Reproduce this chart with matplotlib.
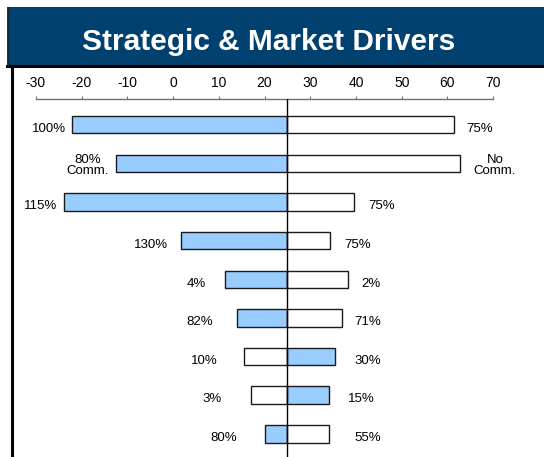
import matplotlib.pyplot as plt
from matplotlib.patches import Rectangle
from matplotlib.lines import Line2D

plt.rcParams['font.family'] = ['Liberation Sans', 'DejaVu Sans']

# tornado data: bars grow out from a base of 25
base = 25
left_end = [-22.0, -12.5, -23.9, 1.7, 11.4, 13.9, 15.5, 17.0, 20.1]
right_end = [61.4, 62.8, 39.6, 34.3, 38.3, 36.9, 35.4, 34.0, 34.0]
left_blue = [True, True, True, True, True, True, False, False, True]
left_labels = ['100%', '80%\nComm.', '115%', '130%', '4%', '82%', '10%', '3%', '80%']
right_labels = ['75%', 'No\nComm.', '75%', '75%', '2%', '71%', '30%', '15%', '55%']
ticks = [-30, -20, -10, 0, 10, 20, 30, 40, 50, 60, 70]

# where the value labels sit (layout only)
left_label_x = [-23.5, -18.6, -25.4, -1.1, 7.2, 8.7, 9.8, 10.7, 14.0]
right_label_x = [64.2, 70.4, 42.6, 37.4, 41.1, 39.6, 39.6, 38.2, 39.6]

blue = '#99CCFF'
navy = '#00416F'

fig = plt.figure(figsize=(5.44, 4.57), dpi=100)

# title banner
fig.patches.append(Rectangle((7 / 544, 1 - 66 / 457), 1, 59 / 457,
                             transform=fig.transFigure, facecolor=navy,
                             edgecolor='none', zorder=0))
fig.lines.append(Line2D([7 / 544, 1], [1 - 65.5 / 457] * 2, transform=fig.transFigure,
                        color='black', lw=2.2))
fig.lines.append(Line2D([7.5 / 544] * 2, [1 - 66 / 457, 1 - 7 / 457], transform=fig.transFigure,
                        color='#10253a', lw=0.8))
fig.lines.append(Line2D([12 / 544] * 2, [0, 1 - 66 / 457], transform=fig.transFigure,
                        color='black', lw=2.2))
fig.text(0.493, 1 - 42 / 457, 'Strategic & Market Drivers', color='white',
         fontsize=21.5, fontweight='bold', ha='center', va='center')

ax = fig.add_axes([35.9 / 544, 0, 457.3 / 544, 1 - 99 / 457])
ax.set_xlim(-30, 70)
ax.set_ylim(8.6, -0.665)

rows = list(range(len(left_end)))
for i in rows:
    lc = blue if left_blue[i] else 'white'
    rc = 'white' if left_blue[i] else blue
    ax.barh(i, left_end[i] - base, left=base, height=0.45, color=lc,
            edgecolor='#1a1a1a', lw=1.0, zorder=2)
    ax.barh(i, right_end[i] - base, left=base, height=0.45, color=rc,
            edgecolor='#1a1a1a', lw=1.0, zorder=2)
    if '\n' in left_labels[i]:
        ax.text(left_label_x[i], i + 0.06, left_labels[i], ha='center', va='center',
                fontsize=9.5, linespacing=0.85)
    else:
        ax.text(left_label_x[i], i + 0.11, left_labels[i], ha='right', va='center', fontsize=9.5)
    if '\n' in right_labels[i]:
        ax.text(right_label_x[i], i + 0.06, right_labels[i], ha='center', va='center',
                fontsize=9.5, linespacing=0.85)
    else:
        ax.text(right_label_x[i], i + 0.11, right_labels[i], ha='left', va='center', fontsize=9.5)

ax.axvline(base, color='black', lw=1.0, zorder=3)

for s in ['left', 'right', 'bottom']:
    ax.spines[s].set_visible(False)
ax.spines['top'].set_color('#707070')
ax.spines['top'].set_linewidth(1.0)
ax.xaxis.tick_top()
ax.set_xticks(ticks)
ax.set_xticklabels([str(t) for t in ticks])
ax.tick_params(axis='x', direction='out', length=2.5, width=0.8, color='#707070',
               labelsize=10, pad=4)
ax.set_yticks([])
ax.patch.set_alpha(0)

fig.savefig('out.png', dpi=100)
